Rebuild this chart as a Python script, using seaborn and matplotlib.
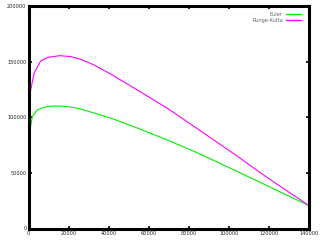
import matplotlib
matplotlib.use("Agg")
import matplotlib.pyplot as plt
import seaborn as sns
import pandas as pd

euler_x = [0, 250, 750, 1900, 4390, 7740, 11000, 15570, 20000, 24700, 32000, 41330, 55000, 69620, 85000, 100000, 120000, 140300]
euler_y = [0, 73700, 88700, 100700, 106800, 109300, 110200, 110400, 109700, 108300, 104500, 99300, 90000, 79500, 67600, 55000, 37800, 20300]

rk_x = [0, 250, 1100, 2750, 6090, 9730, 15570, 21360, 27000, 33040, 41330, 49660, 59000, 69620, 85000, 102900, 120000, 140300]
rk_y = [0, 109700, 124800, 139800, 151000, 154200, 155700, 154800, 151800, 147000, 138800, 129800, 119600, 108000, 89000, 66800, 44800, 20300]

series_names = ["Euler", "Runge-Kutta"]
colors = ["#00ee00", "#ff00ff"]

x_ticks = [0, 20000, 40000, 60000, 80000, 100000, 120000, 140000]
y_ticks = [0, 50000, 100000, 150000, 200000]

df = pd.concat([
    pd.DataFrame({"x": euler_x, "y": euler_y, "method": series_names[0]}),
    pd.DataFrame({"x": rk_x, "y": rk_y, "method": series_names[1]}),
], ignore_index=True)

sns.set_style("white")
fig = plt.figure(figsize=(3.2, 2.4), dpi=100)
ax = fig.add_axes([28.5/320, 11.5/240, (309-28.5)/320, (228.5-6.5)/240])

sns.lineplot(data=df, x="x", y="y", hue="method", palette=colors, sort=False,
             estimator=None, linewidth=0.8, ax=ax, legend=False)

ax.set_xlim(0, 140000)
ax.set_ylim(0, 200000)
ax.set_xticks(x_ticks)
ax.set_yticks(y_ticks)
ax.set_xticklabels([str(t) for t in x_ticks])
ax.set_yticklabels([str(t) for t in y_ticks])
ax.set_xlabel("")
ax.set_ylabel("")
ax.tick_params(direction="in", length=2.5, width=1.2, labelsize=3.6, pad=1.5,
               top=True, right=True, bottom=True, left=True, colors="black",
               labelcolor="#222222")
for s in ax.spines.values():
    s.set_linewidth(2.2)
    s.set_color("black")

handles = [plt.Line2D([0], [0], color=c, lw=1.0) for c in colors]
leg = ax.legend(handles, series_names, loc="upper right", markerfirst=False,
                frameon=False, fontsize=3.6, handlelength=3.0, handletextpad=0.7,
                labelspacing=0.2, borderaxespad=0.3, bbox_to_anchor=(0.985, 0.99))
for t in leg.get_texts():
    t.set_color("#666666")

fig.savefig("out.png", dpi=100)
